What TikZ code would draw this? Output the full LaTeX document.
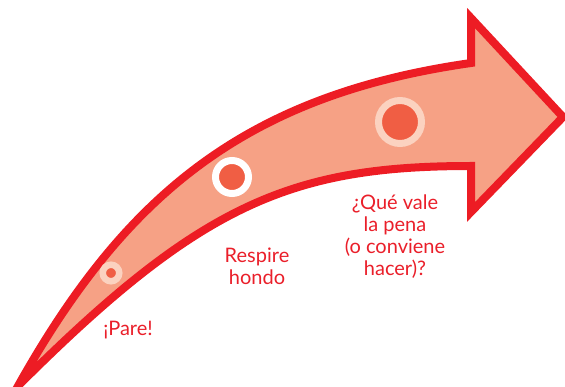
\documentclass[tikz,border=0pt]{standalone}
\usepackage{fontspec}
\setmainfont{Lato}
\definecolor{arrred}{HTML}{ED1C24}
\definecolor{arrfill}{HTML}{F6A185}
\definecolor{dotdark}{HTML}{F05E44}
\definecolor{dotlight}{HTML}{FBD2C0}
\definecolor{txtred}{HTML}{EA1F2A}
\begin{document}
\begin{tikzpicture}[x=1pt,y=-1pt,
  arrowshape/.style={draw=arrred, fill=arrfill, line width=8pt, miter limit=10, line join=miter},
  dot/.style={circle, inner sep=0pt, outer sep=0pt, fill=dotdark},
  lbl/.style={text=txtred, align=center, font=\fontsize{20}{22}\selectfont}]
\useasboundingbox (0,0) rectangle (565,387);
\coordinate (tail) at (18,386);
\coordinate (up) at (471,63);
\coordinate (topc) at (471,18);
\coordinate (tip) at (563,117);
\coordinate (botc) at (471,212);
\coordinate (low) at (471,166);
\draw[arrowshape] (tail) .. controls (124,197) and (243,95.5) .. (up) -- (topc) -- (tip) -- (botc) -- (low) .. controls (291,166) and (200,204) .. cycle;
\node[dot, draw=dotlight, line width=6.5pt, minimum size=16.5pt] (d1) at (111,273) {};
\node[dot, draw=white, line width=7pt, minimum size=33pt] (d2) at (232,177) {};
\node[dot, draw=dotlight, line width=7pt, minimum size=43pt] (d3) at (400,122) {};
\node[lbl] (pare) at (128,330) {¡Pare!};
\node[lbl] (respire) at (257,266) {Respire\\hondo};
\node[lbl] (que) at (395,237) {¿Qué vale\\la pena\\(o conviene\\hacer)?};
\end{tikzpicture}
\end{document}
